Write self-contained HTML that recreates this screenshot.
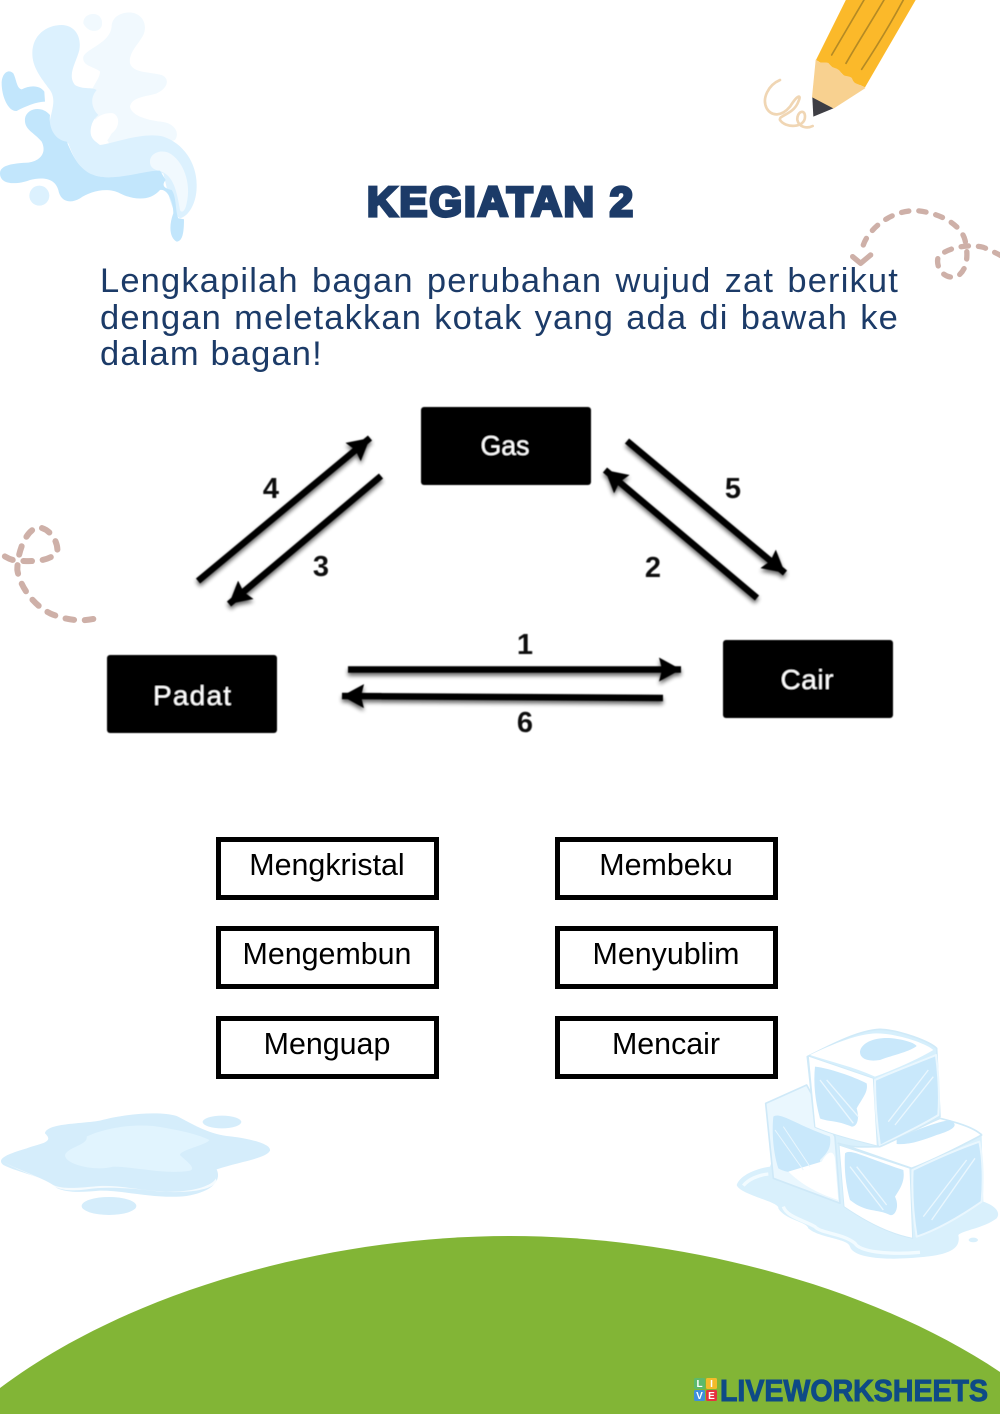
<!DOCTYPE html>
<html><head><meta charset="utf-8"><style>
html,body{margin:0;padding:0;background:#fff}
#p{position:relative;width:1000px;height:1414px;overflow:hidden;font-family:"Liberation Sans",sans-serif}
svg{position:absolute;left:0;top:0}
#t{position:absolute;left:100px;top:263px;width:799px;font-size:34.5px;line-height:36.5px;letter-spacing:1.15px;color:#1c3b68;text-align:justify}
.b{position:absolute;box-sizing:border-box;width:223px;height:63px;border:5px solid #000;background:#fff;text-align:center;font-size:30.4px;line-height:46px;color:#000}
</style></head><body><div id="p">
<svg width="1000" height="1414" viewBox="0 0 1000 1414" xmlns="http://www.w3.org/2000/svg">
<defs>
<filter id="s" x="-20%" y="-20%" width="140%" height="140%"><feGaussianBlur in="SourceAlpha" stdDeviation="2.2"/><feOffset dx="0" dy="3"/><feComponentTransfer><feFuncA type="linear" slope=".6"/></feComponentTransfer><feMerge><feMergeNode/><feMergeNode in="SourceGraphic"/></feMerge></filter>
<filter id="bl" x="-5%" y="-5%" width="110%" height="110%"><feGaussianBlur stdDeviation=".5"/></filter>
<filter id="bm" x="-5%" y="-5%" width="110%" height="110%"><feGaussianBlur stdDeviation=".9"/></filter>
<marker id="a" markerUnits="userSpaceOnUse" markerWidth="26" markerHeight="26" refX="22" refY="12" orient="auto"><path d="M0,0L22,12L0,24L3,12Z" fill="#000"/></marker>
</defs>

<!-- splash -->
<g transform="scale(.3333)" filter="url(#bm)">
<path fill="#f1f9fe" d="M250,70C250,50 265,42 280,42C300,42 310,60 305,78C298,98 265,100 250,70ZM335,80C335,50 365,35 395,38C425,42 442,70 432,100C420,130 385,155 390,190C400,220 450,215 485,225C510,235 505,265 470,280C440,290 395,290 390,320C395,350 450,362 490,366C525,372 540,400 525,420C500,430 440,420 400,440C370,465 330,450 325,425C300,400 270,330 270,300C270,260 300,240 300,215C285,200 245,200 250,170C260,145 330,130 335,80Z"/>
<path fill="#dcf1fe" d="M97,160C97,105 140,75 185,75C225,76 245,110 238,150C230,185 200,225 225,255C250,270 275,260 290,270C265,300 280,330 295,345C265,370 265,410 300,435C340,430 430,395 490,410C550,430 592,490 590,560C590,610 565,650 540,655C515,640 500,560 490,520C440,515 360,540 300,530C240,520 220,470 205,430C170,430 145,400 148,370C155,330 170,300 150,270C120,230 97,200 97,160Z"/>
<path fill="#fff" d="M272,390C275,355 310,335 340,340C362,350 358,385 335,400C325,420 310,440 295,430C280,422 270,410 272,390Z"/>
<path fill="#f1f9fe" d="M450,485C450,460 480,448 505,458C550,480 575,550 560,610C555,635 545,640 540,630C530,570 520,530 485,515C465,510 450,505 450,485Z"/>
<path fill="#c2e6fc" d="M75,355C80,325 125,315 150,345C145,385 165,420 200,425C220,470 240,520 300,530C360,540 440,510 480,512L497,540C485,555 490,565 515,570C530,590 525,630 535,655L552,658C552,690 550,725 530,725C510,715 505,680 520,640C520,600 500,565 480,570C450,605 400,600 360,580C320,560 270,575 240,595C205,615 180,600 175,570C165,535 130,530 90,540C50,555 0,555 0,520C0,495 40,490 85,488C125,482 140,455 125,425C100,395 72,390 75,355Z"/>
<path fill="#c2e6fc" d="M5,250C5,220 25,205 40,220C50,240 50,265 65,268C90,255 120,255 133,275L135,305C110,305 75,320 50,333C25,335 5,290 5,250Z"/>
<circle cx="118" cy="587" r="30" fill="#dcf1fe"/>
</g>

<!-- pencil -->
<g transform="translate(740,0) scale(.3333)">
<path fill="none" stroke="#f0d6b4" stroke-width="8" stroke-linecap="round" d="M120,240C85,255 65,295 80,325C95,350 125,350 150,320C175,280 185,285 175,305C160,345 115,345 120,360C135,385 195,385 195,350C195,325 170,335 172,360C178,385 205,385 218,378"/>
<path fill="#fbb92a" d="M320,-5L530,-5L375,262L360,255L345,255L335,235L320,235L300,215L285,210L265,190L245,190L228,180Z"/>
<path fill="#f8d190" stroke="#f8d190" stroke-width="2" stroke-linejoin="round" d="M228,180C240,195 255,185 265,190C275,210 290,200 300,215C310,235 325,225 335,235C340,255 355,250 375,264L280,325L217,292Z"/>
<path fill="#3e3e44" d="M217,292L280,325L220,350Z"/>
<path fill="none" stroke="#b58a24" stroke-width="5" stroke-linecap="round" d="M275,165C310,105 345,45 372,0M318,190C355,125 400,55 432,0M365,208C410,140 455,65 490,0"/>
</g>

<!-- dashed trails -->
<g fill="none" stroke="#ceb0a8" stroke-linecap="round" stroke-linejoin="round">
<g transform="translate(740,0) scale(.3333)" stroke-width="16">
<path stroke-dasharray="22 30" d="M370,735C385,690 450,630 530,632C610,640 665,680 675,720C685,760 685,810 650,830C610,840 585,800 595,770C620,745 680,730 730,742C750,750 770,760 785,768"/>
<path d="M338,770L362,790L392,765"/>
</g>
<g transform="translate(0,510) scale(.3333)" stroke-width="18">
<path stroke-dasharray="26 32" d="M280,327C240,335 195,330 150,310C100,285 60,230 52,180C52,130 75,60 115,52C150,55 175,95 172,125C150,155 100,155 50,152C30,150 15,140 0,130"/>
</g>
</g>

<!-- title -->
<text x="367" y="216" font-family="Liberation Sans" font-weight="700" font-size="42" fill="#1c3b68" stroke="#1c3b68" stroke-width="3.2" textLength="266" lengthAdjust="spacing">KEGIATAN 2</text>

<!-- diagram -->
<g filter="url(#bl)">
<rect x="421" y="407" width="170" height="78" rx="3" fill="#000"/>
<rect x="107" y="655" width="170" height="78" rx="3" fill="#000"/>
<rect x="723" y="640" width="170" height="78" rx="3" fill="#000"/>
<g fill="#fff" font-family="Liberation Sans" font-size="28">
<text x="505" y="455" text-anchor="middle" textLength="49" lengthAdjust="spacingAndGlyphs">Gas</text>
<text x="192" y="705" text-anchor="middle" textLength="78" lengthAdjust="spacing">Padat</text>
<text x="807" y="689" text-anchor="middle" textLength="53" lengthAdjust="spacing">Cair</text>
</g>
<g fill="#111" font-family="Liberation Sans" font-weight="700" font-size="29">
<text x="271" y="498" text-anchor="middle">4</text>
<text x="321" y="576" text-anchor="middle">3</text>
<text x="733" y="498" text-anchor="middle">5</text>
<text x="653" y="577" text-anchor="middle">2</text>
<text x="525" y="654" text-anchor="middle">1</text>
<text x="525" y="732" text-anchor="middle">6</text>
</g>
<g stroke="#000" stroke-width="6.5" fill="none" filter="url(#s)">
<path marker-end="url(#a)" d="M198,581L370,438"/>
<path marker-end="url(#a)" d="M381,476L229,604"/>
<path marker-end="url(#a)" d="M627,441L785,573"/>
<path marker-end="url(#a)" d="M757,598L605,470"/>
<path marker-end="url(#a)" d="M348,669.5L681,669.5"/>
<path marker-end="url(#a)" d="M663,698L342,696"/>
</g>
</g>

<!-- puddle -->
<g transform="translate(0,1100) scale(.3333)" filter="url(#bm)">
<path fill="#d5edfb" d="M135,100C140,70 240,72 300,62C370,42 480,32 530,48C575,70 620,100 680,108C740,114 815,130 810,152C800,175 720,185 650,208C665,240 640,275 560,288C470,298 380,272 300,272C240,278 200,278 170,264C130,228 60,220 10,195C-15,175 30,160 80,145C120,130 165,128 135,100Z"/>
<path fill="#e1f4fe" d="M195,165C205,140 265,135 260,110C290,95 370,70 460,78C510,85 590,100 628,120C620,135 540,150 540,165C560,185 590,205 570,212C500,225 400,200 340,200C290,215 195,195 195,165Z"/>
<path fill="#fff" opacity=".75" d="M0,180C40,205 110,225 160,255C190,270 250,262 300,258C380,255 480,285 560,272C610,265 640,250 648,235L650,245C635,270 570,280 480,275C400,265 320,258 260,268C210,275 170,270 150,250C100,225 40,205 0,180Z"/>
<ellipse cx="666" cy="66" rx="58" ry="19" fill="#d5edfb"/>
<ellipse cx="327" cy="318" rx="82" ry="27" fill="#d5edfb"/>
</g>

<!-- ice -->
<g transform="translate(720,1020) scale(.3333)" filter="url(#bm)" stroke-linejoin="round">
<path fill="#d9f0fc" d="M50,495C60,465 110,445 150,440L200,300L640,290L785,340L790,545C820,555 845,575 830,595C790,625 730,630 715,645C725,690 680,705 600,712C500,722 400,715 390,680C385,655 300,655 265,625C262,605 195,600 175,565C180,545 60,525 50,495Z"/>
<path fill="none" stroke="#f2fbff" stroke-width="10" d="M70,497C85,478 115,465 145,462M190,560C200,590 250,600 285,620C300,640 370,640 405,670C420,695 500,705 600,697"/>
<!-- left cube -->
<path fill="#eaf7fe" stroke="#cfe9f8" stroke-width="5" d="M137,250L260,195L345,350L360,550L160,475Z"/>
<path fill="#c9e8fb" d="M160,290C180,275 220,310 330,350C335,385 320,400 300,420C305,450 290,480 270,470C230,450 210,465 175,445C160,400 155,340 160,290Z"/>
<path fill="#fff" d="M205,455L305,425C330,380 345,400 345,420L355,540C290,520 240,490 205,455Z"/>
<!-- top cube -->
<path fill="#d6effc" stroke="#d0eaf8" stroke-width="5" d="M262,110C340,70 420,30 480,28C540,30 630,65 650,85L660,290L480,380C420,360 340,330 285,320Z"/>
<path fill="#fff" d="M270,105C340,70 420,40 470,40C530,40 620,70 640,90C590,120 520,150 465,170C400,140 330,125 270,105Z"/>
<path fill="#c9e8fb" d="M420,95C425,65 470,50 520,55C560,60 585,70 590,78C570,95 520,105 480,120C450,125 420,120 420,95Z"/>
<path fill="#fff" stroke="#d0eaf8" stroke-width="3" d="M265,108L460,175L472,378C400,360 340,345 285,322Z"/>
<path fill="#c9e8fb" d="M285,140C330,145 400,170 440,190C445,215 430,230 410,265C420,300 410,320 395,320C350,300 320,305 300,295C285,240 280,190 285,140Z"/>
<path fill="#c9e8fb" stroke="#eaf7fe" stroke-width="6" d="M465,180C530,150 600,125 648,105C655,160 660,220 655,285C600,320 530,350 480,378C470,310 465,240 465,180Z"/>
<path fill="none" stroke="#eaf7fe" stroke-width="4" d="M505,305L625,150M525,315L640,170M300,180L400,310M320,180L415,290"/>
<!-- right cube -->
<path fill="#fff" stroke="#d0eaf8" stroke-width="5" d="M355,370C400,385 440,380 480,380C550,350 620,310 660,295C700,305 760,320 785,345C710,385 640,420 575,445C500,420 420,390 355,370Z"/>
<path fill="#c9e8fb" d="M530,355C570,340 630,310 690,300C720,315 700,330 650,345C610,360 570,375 530,372Z"/>
<path fill="#fff" stroke="#d0eaf8" stroke-width="3" d="M357,375L570,445L578,655C500,640 430,600 372,560Z"/>
<path fill="#c9e8fb" d="M375,400C390,385 430,410 550,450C555,480 545,500 525,530C540,560 525,590 510,585C470,565 440,580 390,540C378,500 372,450 375,400Z"/>
<path fill="#c9e8fb" stroke="#eaf7fe" stroke-width="6" d="M578,450C640,420 720,385 778,365C790,420 790,490 785,545C720,590 650,630 590,650C580,590 575,520 578,450Z"/>
<path fill="none" stroke="#eaf7fe" stroke-width="4" d="M610,590L740,420M635,600L765,415M390,440L490,570M410,440L500,555"/>
<path fill="none" stroke="#eaf7fe" stroke-width="3" d="M165,330L250,450M190,320L270,440"/>
<ellipse cx="760" cy="660" rx="14" ry="7" fill="#d9f0fc"/>
</g>

<!-- hill -->
<path fill="#82b536" d="M0,1388C130,1290 330,1236 510,1236C680,1236 870,1285 1000,1372L1000,1414L0,1414Z"/>
<!-- logo -->
<rect x="694" y="1378" width="11" height="11" rx="1.5" fill="#5db96b"/>
<rect x="706" y="1378" width="11" height="11" rx="1.5" fill="#f4bb2a"/>
<rect x="694" y="1390" width="11" height="11" rx="1.5" fill="#3f8fdc"/>
<rect x="706" y="1390" width="11" height="11" rx="1.5" fill="#e5333f"/>
<g font-family="Liberation Sans" font-weight="700" font-size="10" fill="#fff" text-anchor="middle">
<text x="699.500" y="1387">L</text><text x="711.500" y="1387">I</text><text x="699.500" y="1399">V</text><text x="711.500" y="1399">E</text>
</g>
<text x="720" y="1401" font-family="Liberation Sans" font-weight="700" font-size="31" fill="#0e4a86" stroke="#0e4a86" stroke-width="1" textLength="268" lengthAdjust="spacingAndGlyphs">LIVEWORKSHEETS</text>
</svg>

<div id="t">Lengkapilah bagan perubahan wujud zat berikut dengan meletakkan kotak yang ada di bawah ke dalam bagan!</div>

<div class="b" style="left:215.500px;top:836.500px">Mengkristal</div>
<div class="b" style="left:554.500px;top:836.500px">Membeku</div>
<div class="b" style="left:215.500px;top:926px">Mengembun</div>
<div class="b" style="left:554.500px;top:926px">Menyublim</div>
<div class="b" style="left:215.500px;top:1015.500px">Menguap</div>
<div class="b" style="left:554.500px;top:1015.500px">Mencair</div>
</div></body></html>
